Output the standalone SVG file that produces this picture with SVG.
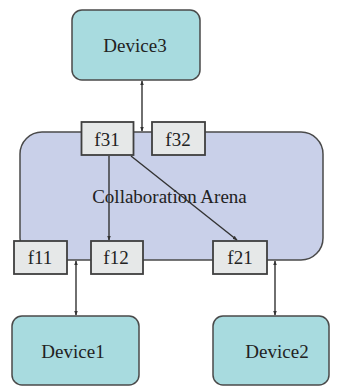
<svg xmlns="http://www.w3.org/2000/svg" width="338" height="387" viewBox="0 0 338 387">
<style>
.dev{fill:#a8dbdf;stroke:#4a4a4a;stroke-width:1.5}
.arena{fill:#c9d0e9;stroke:#4a4a4a;stroke-width:1.5}
.port{fill:#e6e8e8;stroke:#3f3f3f;stroke-width:1.8}
.lbl{font-family:"Liberation Serif","Times New Roman",serif;font-size:19px;fill:#222;text-anchor:middle}
.con{stroke:#333;stroke-width:1.4;fill:none}
</style>
<defs>
<marker id="ah" viewBox="0 0 8 8" refX="7" refY="4" markerWidth="5" markerHeight="5" orient="auto-start-reverse" markerUnits="userSpaceOnUse">
<path d="M0,1 L8,4 L0,7 Z" fill="#333"/>
</marker>
</defs>
<g id="arena">
<rect class="arena" x="20" y="132" width="303" height="128" rx="22" ry="22"/>
<text class="lbl" x="169.5" y="203" font-family="Liberation Serif, serif">Collaboration Arena</text>
</g>
<g id="device3">
<rect class="dev" x="72" y="10" width="128" height="70" rx="10" ry="10"/>
<text class="lbl" x="135" y="52" font-family="Liberation Serif, serif">Device3</text>
</g>
<g id="device1">
<rect class="dev" x="12" y="316" width="127" height="69" rx="10" ry="10"/>
<text class="lbl" x="73" y="358" font-family="Liberation Serif, serif">Device1</text>
</g>
<g id="device2">
<rect class="dev" x="213" y="316" width="116" height="69" rx="10" ry="10"/>
<text class="lbl" x="277" y="358" font-family="Liberation Serif, serif">Device2</text>
</g>
<g id="connectors">
<line class="con" x1="142" y1="81" x2="142" y2="131" marker-start="url(#ah)" marker-end="url(#ah)"/>
<line class="con" x1="109" y1="156" x2="109" y2="240" marker-end="url(#ah)"/>
<line class="con" x1="131" y1="156" x2="237" y2="240" marker-end="url(#ah)"/>
<line class="con" x1="76" y1="261" x2="76" y2="315" marker-start="url(#ah)" marker-end="url(#ah)"/>
<line class="con" x1="275" y1="261" x2="275" y2="315" marker-start="url(#ah)" marker-end="url(#ah)"/>
</g>
<g id="f31">
<rect class="port" x="81.5" y="122" width="52" height="33"/>
<text class="lbl" x="107" y="146" font-family="Liberation Serif, serif">f31</text>
</g>
<g id="f32">
<rect class="port" x="152" y="122" width="53" height="33"/>
<text class="lbl" x="178" y="146" font-family="Liberation Serif, serif">f32</text>
</g>
<g id="f11">
<rect class="port" x="14" y="241" width="53" height="33"/>
<text class="lbl" x="40" y="264" font-family="Liberation Serif, serif">f11</text>
</g>
<g id="f12">
<rect class="port" x="91" y="241" width="52" height="33"/>
<text class="lbl" x="116" y="264" font-family="Liberation Serif, serif">f12</text>
</g>
<g id="f21">
<rect class="port" x="213" y="241" width="54" height="33"/>
<text class="lbl" x="240" y="264" font-family="Liberation Serif, serif">f21</text>
</g>
</svg>
